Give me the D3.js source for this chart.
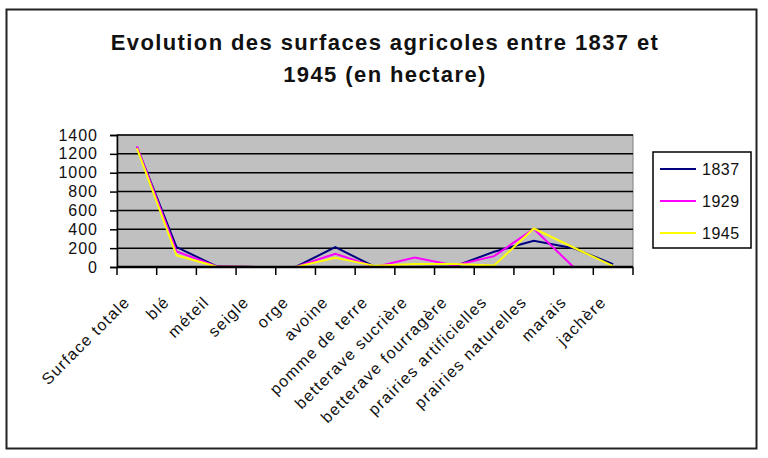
<!DOCTYPE html>
<html>
<head>
<meta charset="utf-8">
<script src="https://cdn.jsdelivr.net/npm/d3@7"></script>
<style>
  body { margin: 0; background: #fff; }
  text { font-family: "Liberation Sans", Arial, sans-serif; }
</style>
</head>
<body>
<div id="chart"></div>
<script>
// Data
var categories = ["Surface totale", "blé", "méteil", "seigle", "orge", "avoine",
    "pomme de terre", "betterave sucrière", "betterave fourragère",
    "prairies artificielles", "prairies naturelles", "marais", "jachère"];
var seriesNames = ["1837", "1929", "1945"];
var values1837 = [1275, 211, 10, 0, 0, 211, 0, 0, 5, 162, 278, 200, 30];
var values1929 = [1280, 166, 8, 0, 0, 141, 0, 100, 15, 115, 405, 0, 0];
var values1945 = [1260, 124, 5, 0, 0, 99, 12, 32, 32, 15, 408, 207, 10];
var yTicks = [0, 200, 400, 600, 800, 1000, 1200, 1400];
var colors = ["#000080", "#ff00ff", "#ffff00"];

var svgWidth = 768;
var svgHeight = 458;

var plot = { left: 117, right: 633, top: 135, bottom: 267 };

var svg = d3.select("#chart")
    .append("svg")
    .attr("width", svgWidth)
    .attr("height", svgHeight);

// outer frame
svg.append("rect")
    .attr("x", 6.5)
    .attr("y", 9.5)
    .attr("width", 750)
    .attr("height", 439)
    .attr("fill", "#fff")
    .attr("stroke", "#222")
    .attr("stroke-width", 2);

// title
var title = svg.append("text")
    .attr("text-anchor", "middle")
    .attr("font-size", "22px")
    .attr("font-weight", "bold")
    .attr("letter-spacing", "1.4px")
    .attr("fill", "#111");
title.append("tspan").attr("x", 385).attr("y", 50)
    .text("Evolution des surfaces agricoles entre 1837 et");
title.append("tspan").attr("x", 385).attr("y", 82)
    .text("1945 (en hectare)");

var x = d3.scaleBand()
    .domain(categories)
    .range([plot.left, plot.right]);

var y = d3.scaleLinear()
    .domain([0, 1400])
    .range([plot.bottom, plot.top]);

// plot background
svg.append("rect")
    .attr("x", plot.left)
    .attr("y", plot.top)
    .attr("width", plot.right - plot.left)
    .attr("height", plot.bottom - plot.top)
    .attr("fill", "#c0c0c0")
    .attr("stroke", "#808080");

// gridlines
svg.append("g")
    .selectAll("line")
    .data(yTicks)
    .enter()
    .append("line")
    .attr("x1", plot.left)
    .attr("x2", plot.right)
    .attr("y1", d => y(d))
    .attr("y2", d => y(d))
    .attr("stroke", "#000")
    .attr("stroke-width", 1.5);

// lines (drawn under the axes so zero values hide behind the axis)
var allSeries = [values1837, values1929, values1945];
var line = d3.line()
    .x((d, i) => x(categories[i]) + x.bandwidth() / 2)
    .y(d => y(d));

svg.append("g")
    .selectAll("path")
    .data(allSeries)
    .enter()
    .append("path")
    .attr("d", d => line(d))
    .attr("fill", "none")
    .attr("stroke", (d, i) => colors[i])
    .attr("stroke-width", 2);

// y axis
var leftAxis = d3.axisLeft(y)
    .tickValues(yTicks)
    .tickSize(7)
    .tickPadding(12)
    .tickFormat(d3.format("d"));

var yAxis = svg.append("g")
    .attr("transform", `translate(${plot.left}, 0)`)
    .call(leftAxis);
yAxis.select(".domain").attr("stroke", "#000").attr("stroke-width", 1.5);
yAxis.selectAll(".tick line").attr("stroke", "#000").attr("stroke-width", 1.5);
yAxis.selectAll("text")
    .attr("font-size", "16px")
    .attr("letter-spacing", "1px")
    .attr("font-family", "Liberation Sans, Arial, sans-serif")
    .attr("fill", "#111");

// x axis: ticks between categories
var boundaries = categories.map(c => x(c)).concat([x.range()[1]]);
var xAxis = svg.append("g");
xAxis.append("line")
    .attr("x1", plot.left)
    .attr("x2", plot.right)
    .attr("y1", plot.bottom)
    .attr("y2", plot.bottom)
    .attr("stroke", "#000")
    .attr("stroke-width", 2.5);
xAxis.selectAll(".xtick")
    .data(boundaries)
    .enter()
    .append("line")
    .attr("class", "xtick")
    .attr("x1", d => d)
    .attr("x2", d => d)
    .attr("y1", plot.bottom)
    .attr("y2", plot.bottom + 8)
    .attr("stroke", "#000")
    .attr("stroke-width", 1.5);

xAxis.selectAll(".xlabel")
    .data(categories)
    .enter()
    .append("text")
    .attr("class", "xlabel")
    .attr("text-anchor", "end")
    .attr("font-size", "16px")
    .attr("letter-spacing", "1.3px")
    .attr("fill", "#111")
    .attr("transform", d => `translate(${x(d) + x.bandwidth() / 2 - 6}, ${plot.bottom + 36}) rotate(-45)`)
    .text(d => d);

// legend
var legend = svg.append("g");
legend.append("rect")
    .attr("x", 653)
    .attr("y", 152)
    .attr("width", 98)
    .attr("height", 96)
    .attr("fill", "#fff")
    .attr("stroke", "#000")
    .attr("stroke-width", 1.5);

var legendY = d3.scalePoint()
    .domain(seriesNames)
    .range([169, 233]);

var items = legend.selectAll(".item")
    .data(seriesNames)
    .enter()
    .append("g")
    .attr("class", "item")
    .attr("transform", d => `translate(0, ${legendY(d)})`);
items.append("line")
    .attr("x1", 660)
    .attr("x2", 696)
    .attr("stroke", (d, i) => colors[i])
    .attr("stroke-width", 2);
items.append("text")
    .attr("x", 702)
    .attr("dy", "0.35em")
    .attr("font-size", "16px")
    .attr("letter-spacing", "0.5px")
    .attr("fill", "#111")
    .text(d => d);
</script>
</body>
</html>
